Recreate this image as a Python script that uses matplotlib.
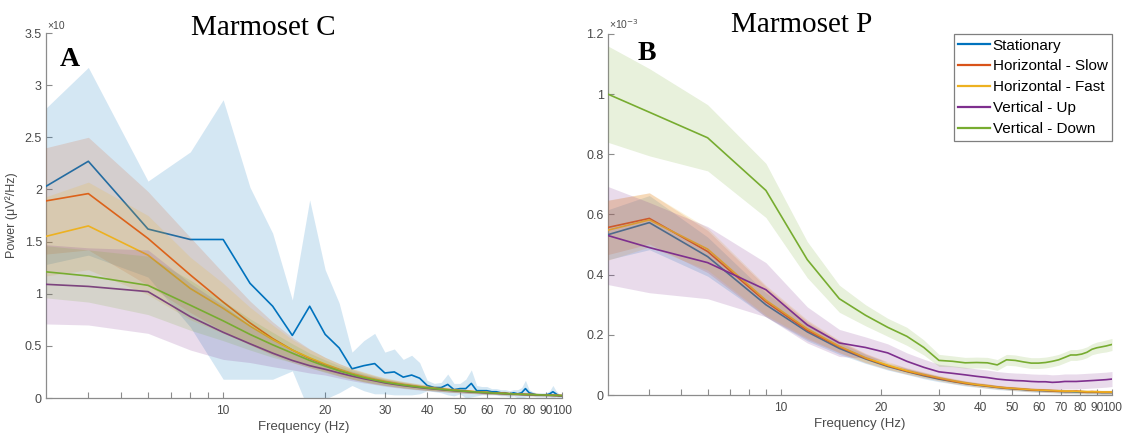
import matplotlib
matplotlib.use('Agg')
import matplotlib.pyplot as plt
import numpy as np
from matplotlib.ticker import FixedLocator, NullFormatter, FuncFormatter

plt.rcParams['font.family'] = ['Liberation Sans', 'DejaVu Sans']

# ---------------- data ----------------
series_names = ['Stationary', 'Horizontal - Slow', 'Horizontal - Fast', 'Vertical - Up', 'Vertical - Down']
series_colors = ['#0072BD', '#D95319', '#EDB120', '#7E2F8E', '#77AC30']

x_major_ticks = [10, 20, 30, 40, 50, 60, 70, 80, 90, 100]
x_minor_ticks = [4, 5, 6, 7, 8, 9]
yticks_a = [0, 0.5, 1, 1.5, 2, 2.5, 3, 3.5]
yticks_b = [0, 0.2, 0.4, 0.6, 0.8, 1, 1.2]

# Panel A (Marmoset C)
freq_a = [3, 4, 6, 8, 10, 12, 14, 16, 18, 20, 22, 24, 26, 28, 30, 32, 34, 36, 38, 40,
          42, 44, 46, 48, 50, 52, 54, 56, 58, 60, 62, 64, 66, 68, 70, 72, 74, 76, 78, 80,
          82, 84, 86, 88, 90, 92, 94, 96, 98, 100]

stat_a_mean = [2.03, 2.27, 1.62, 1.52, 1.52, 1.10, 0.88, 0.60, 0.88, 0.61,
               0.48, 0.28, 0.31, 0.33, 0.24, 0.25, 0.20, 0.22, 0.19, 0.12,
               0.10, 0.10, 0.13, 0.08, 0.09, 0.09, 0.14, 0.07, 0.07, 0.07,
               0.06, 0.06, 0.05, 0.05, 0.04, 0.05, 0.04, 0.05, 0.09, 0.05,
               0.04, 0.03, 0.03, 0.03, 0.03, 0.04, 0.06, 0.04, 0.02, 0.02]
stat_a_err = [0.75, 0.90, 0.46, 0.84, 1.34, 0.92, 0.70, 0.34, 1.02, 0.62,
              0.43, 0.16, 0.24, 0.29, 0.20, 0.22, 0.17, 0.19, 0.15, 0.05,
              0.04, 0.05, 0.10, 0.06, 0.05, 0.09, 0.13, 0.05, 0.04, 0.04,
              0.03, 0.03, 0.03, 0.03, 0.03, 0.03, 0.04, 0.05, 0.08, 0.03,
              0.02, 0.02, 0.02, 0.02, 0.02, 0.03, 0.06, 0.03, 0.02, 0.02]

slow_a_mean = [1.89, 1.96, 1.53, 1.18, 0.92, 0.72, 0.57, 0.46, 0.38, 0.32,
               0.27, 0.23, 0.20, 0.175, 0.155, 0.140, 0.127, 0.116, 0.106, 0.098,
               0.091, 0.085, 0.079, 0.074, 0.069, 0.065, 0.061, 0.058, 0.055, 0.052,
               0.049, 0.047, 0.045, 0.043, 0.041, 0.039, 0.037, 0.036, 0.034, 0.033,
               0.032, 0.031, 0.030, 0.029, 0.028, 0.027, 0.026, 0.025, 0.024, 0.023]
slow_a_err = [0.51, 0.54, 0.45, 0.36, 0.28, 0.21, 0.16, 0.12, 0.09, 0.07,
              0.06, 0.05, 0.045, 0.04, 0.035, 0.032, 0.030, 0.028, 0.026, 0.024,
              0.022, 0.021, 0.020, 0.019, 0.018, 0.017, 0.016, 0.015, 0.015, 0.014,
              0.014, 0.013, 0.013, 0.012, 0.012, 0.011, 0.011, 0.011, 0.010, 0.010,
              0.010, 0.010, 0.009, 0.009, 0.009, 0.009, 0.008, 0.008, 0.008, 0.008]

fast_a_mean = [1.55, 1.65, 1.37, 1.05, 0.86, 0.69, 0.56, 0.46, 0.385, 0.325,
               0.275, 0.235, 0.205, 0.180, 0.160, 0.144, 0.130, 0.119, 0.109, 0.100,
               0.093, 0.087, 0.081, 0.076, 0.071, 0.067, 0.063, 0.059, 0.056, 0.053,
               0.050, 0.048, 0.046, 0.044, 0.042, 0.040, 0.038, 0.037, 0.035, 0.034,
               0.033, 0.032, 0.031, 0.030, 0.029, 0.028, 0.027, 0.026, 0.025, 0.024]
fast_a_err = [0.38, 0.42, 0.38, 0.30, 0.24, 0.18, 0.14, 0.10, 0.08, 0.065,
              0.055, 0.05, 0.045, 0.04, 0.035, 0.032, 0.030, 0.028, 0.026, 0.024,
              0.022, 0.021, 0.020, 0.019, 0.018, 0.017, 0.016, 0.015, 0.015, 0.014,
              0.014, 0.013, 0.013, 0.012, 0.012, 0.011, 0.011, 0.011, 0.010, 0.010,
              0.010, 0.010, 0.009, 0.009, 0.009, 0.009, 0.008, 0.008, 0.008, 0.008]

up_a_mean = [1.09, 1.07, 1.02, 0.78, 0.63, 0.52, 0.43, 0.36, 0.31, 0.275,
             0.24, 0.21, 0.185, 0.165, 0.145, 0.131, 0.119, 0.109, 0.100, 0.092,
             0.086, 0.080, 0.075, 0.070, 0.066, 0.062, 0.058, 0.055, 0.052, 0.049,
             0.047, 0.045, 0.043, 0.041, 0.039, 0.037, 0.036, 0.034, 0.033, 0.032,
             0.031, 0.030, 0.029, 0.028, 0.027, 0.026, 0.025, 0.024, 0.023, 0.022]
up_a_err = [0.38, 0.37, 0.40, 0.32, 0.26, 0.18, 0.13, 0.09, 0.07, 0.055,
            0.05, 0.045, 0.04, 0.036, 0.032, 0.030, 0.028, 0.026, 0.024, 0.022,
            0.021, 0.020, 0.019, 0.018, 0.017, 0.016, 0.015, 0.015, 0.014, 0.014,
            0.013, 0.013, 0.012, 0.012, 0.011, 0.011, 0.011, 0.010, 0.010, 0.010,
            0.010, 0.009, 0.009, 0.009, 0.009, 0.008, 0.008, 0.008, 0.008, 0.008]

down_a_mean = [1.21, 1.17, 1.08, 0.89, 0.74, 0.61, 0.51, 0.43, 0.36, 0.305,
               0.26, 0.225, 0.195, 0.172, 0.152, 0.137, 0.124, 0.113, 0.104, 0.096,
               0.089, 0.083, 0.077, 0.072, 0.068, 0.064, 0.060, 0.057, 0.054, 0.051,
               0.048, 0.046, 0.044, 0.042, 0.040, 0.038, 0.037, 0.035, 0.034, 0.033,
               0.032, 0.031, 0.030, 0.029, 0.028, 0.027, 0.026, 0.025, 0.024, 0.023]
down_a_err = [0.25, 0.25, 0.28, 0.24, 0.19, 0.15, 0.12, 0.09, 0.07, 0.06,
              0.05, 0.045, 0.04, 0.036, 0.032, 0.030, 0.028, 0.026, 0.024, 0.022,
              0.021, 0.020, 0.019, 0.018, 0.017, 0.016, 0.015, 0.015, 0.014, 0.014,
              0.013, 0.013, 0.012, 0.012, 0.011, 0.011, 0.011, 0.010, 0.010, 0.010,
              0.010, 0.009, 0.009, 0.009, 0.009, 0.008, 0.008, 0.008, 0.008, 0.008]

# Panel B (Marmoset P), values in units of 1e-3
freq_b = [3, 4, 6, 9, 12, 15, 18, 21, 24, 27, 30, 33, 36, 39, 42, 45, 48, 51, 54, 57,
          60, 63, 66, 69, 72, 75, 78, 81, 84, 87, 90, 93, 96, 100]

stat_b_mean = [0.533, 0.573, 0.460, 0.300, 0.210, 0.155, 0.120, 0.095, 0.078, 0.064,
               0.053, 0.045, 0.038, 0.033, 0.029, 0.025, 0.022, 0.020, 0.018, 0.016,
               0.015, 0.014, 0.013, 0.012, 0.011, 0.011, 0.010, 0.010, 0.009, 0.009,
               0.009, 0.008, 0.008, 0.008]
stat_b_err = [0.083, 0.090, 0.065, 0.040, 0.030, 0.020, 0.015, 0.012, 0.010, 0.010,
              0.009, 0.008, 0.008, 0.007, 0.007, 0.007, 0.006, 0.006, 0.006, 0.006,
              0.006, 0.006, 0.006, 0.006, 0.006, 0.006, 0.006, 0.006, 0.006, 0.006,
              0.006, 0.006, 0.006, 0.006]

slow_b_mean = [0.557, 0.587, 0.477, 0.310, 0.215, 0.160, 0.122, 0.097, 0.079, 0.066,
               0.055, 0.046, 0.039, 0.034, 0.030, 0.026, 0.023, 0.021, 0.019, 0.017,
               0.016, 0.015, 0.014, 0.013, 0.012, 0.012, 0.013, 0.011, 0.010, 0.011,
               0.010, 0.009, 0.009, 0.009]
slow_b_err = [0.090, 0.085, 0.070, 0.050, 0.030, 0.020, 0.015, 0.012, 0.010, 0.009,
              0.008, 0.008, 0.007, 0.007, 0.007, 0.006, 0.006, 0.006, 0.006, 0.006,
              0.006, 0.006, 0.006, 0.006, 0.006, 0.006, 0.006, 0.006, 0.006, 0.006,
              0.006, 0.006, 0.006, 0.006]

fast_b_mean = [0.548, 0.582, 0.485, 0.315, 0.220, 0.162, 0.124, 0.099, 0.081, 0.068,
               0.057, 0.048, 0.041, 0.035, 0.031, 0.027, 0.024, 0.022, 0.020, 0.018,
               0.017, 0.016, 0.015, 0.014, 0.013, 0.013, 0.012, 0.012, 0.011, 0.011,
               0.011, 0.010, 0.010, 0.010]
fast_b_err = [0.100, 0.090, 0.070, 0.050, 0.030, 0.020, 0.015, 0.012, 0.010, 0.009,
              0.008, 0.008, 0.007, 0.007, 0.007, 0.006, 0.006, 0.006, 0.006, 0.006,
              0.006, 0.006, 0.006, 0.006, 0.006, 0.006, 0.006, 0.006, 0.006, 0.006,
              0.006, 0.006, 0.006, 0.006]

up_b_mean = [0.530, 0.490, 0.440, 0.350, 0.233, 0.173, 0.158, 0.140, 0.112, 0.092,
             0.077, 0.072, 0.067, 0.062, 0.058, 0.053, 0.050, 0.048, 0.047, 0.045,
             0.044, 0.044, 0.042, 0.043, 0.045, 0.045, 0.045, 0.046, 0.047, 0.048,
             0.049, 0.050, 0.051, 0.053]
up_b_err = [0.163, 0.150, 0.120, 0.090, 0.060, 0.045, 0.035, 0.030, 0.028, 0.027,
            0.025, 0.025, 0.025, 0.025, 0.025, 0.025, 0.025, 0.025, 0.025, 0.025,
            0.025, 0.025, 0.025, 0.025, 0.025, 0.025, 0.025, 0.025, 0.025, 0.025,
            0.025, 0.025, 0.025, 0.025]

down_b_mean = [1.000, 0.940, 0.855, 0.680, 0.450, 0.320, 0.265, 0.225, 0.195, 0.158,
               0.115, 0.112, 0.107, 0.108, 0.107, 0.100, 0.117, 0.115, 0.110, 0.106,
               0.106, 0.108, 0.112, 0.117, 0.125, 0.133, 0.133, 0.136, 0.142, 0.152,
               0.157, 0.160, 0.163, 0.168]
down_b_err = [0.160, 0.145, 0.110, 0.090, 0.060, 0.045, 0.035, 0.030, 0.030, 0.025,
              0.020, 0.018, 0.018, 0.018, 0.018, 0.018, 0.018, 0.018, 0.018, 0.018,
              0.018, 0.018, 0.018, 0.018, 0.018, 0.018, 0.018, 0.018, 0.018, 0.018,
              0.019, 0.019, 0.020, 0.020]

means_a = [stat_a_mean, slow_a_mean, fast_a_mean, up_a_mean, down_a_mean]
errs_a = [stat_a_err, slow_a_err, fast_a_err, up_a_err, down_a_err]
means_b = [stat_b_mean, slow_b_mean, fast_b_mean, up_b_mean, down_b_mean]
errs_b = [stat_b_err, slow_b_err, fast_b_err, up_b_err, down_b_err]

# ---------------- figure ----------------
W, H = 1127, 436
fig = plt.figure(figsize=(W / 100, H / 100), dpi=100)
axA = fig.add_axes([46 / W, (H - 398) / H, 516 / W, 365 / H])
axB = fig.add_axes([608 / W, (H - 395) / H, 504 / W, 361 / H])

AX_COL = '#8c8c8c'
TXT_COL = '#4a4a4a'


def draw(ax, freq, means, errs):
    f = np.array(freq, dtype=float)
    for i, (name, col, m, e) in enumerate(zip(series_names, series_colors, means, errs)):
        m = np.array(m)
        e = np.array(e)
        ax.fill_between(f, m - e, m + e, color=col, alpha=0.17, lw=0, zorder=2 + 2 * i)
        ax.plot(f, m, color=col, lw=1.2, label=name, zorder=3 + 2 * i)


def style(ax, ymax, yticks):
    ax.set_xscale('log')
    ax.set_xlim(3, 100)
    ax.set_ylim(0, ymax)
    ax.xaxis.set_major_locator(FixedLocator(x_major_ticks))
    ax.xaxis.set_major_formatter(FuncFormatter(lambda v, p: f'{v:g}'))
    ax.xaxis.set_minor_locator(FixedLocator(x_minor_ticks))
    ax.xaxis.set_minor_formatter(NullFormatter())
    ax.yaxis.set_major_locator(FixedLocator(yticks))
    ax.yaxis.set_major_formatter(FuncFormatter(lambda v, p: f'{v:g}'))
    for s in ['top', 'right']:
        ax.spines[s].set_visible(False)
    for s in ['left', 'bottom']:
        ax.spines[s].set_color(AX_COL)
        ax.spines[s].set_linewidth(0.9)
    ax.tick_params(which='both', direction='in', length=4, width=0.8, color=AX_COL,
                   labelcolor=TXT_COL, labelsize=9)
    ax.tick_params(axis='x', which='both', pad=5, labelsize=8.6)
    ax.tick_params(axis='y', pad=3)
    ax.set_xlabel('Frequency (Hz)', fontsize=9.5, color=TXT_COL, labelpad=3)
    ax.set_facecolor('none')


draw(axA, freq_a, means_a, errs_a)
draw(axB, freq_b, means_b, errs_b)
style(axA, 3.5, yticks_a)
style(axB, 1.2, yticks_b)
axA.set_ylabel('Power (μV²/Hz)', fontsize=9, color=TXT_COL, labelpad=5)

# exponent labels
fig.text(47 / W, 1 - 29 / H, '×10', fontsize=7.5, color=TXT_COL, va='baseline', ha='left')
fig.text(609 / W, 1 - 29 / H, r'×10$^{-3}$', fontsize=7.5, color=TXT_COL, va='baseline', ha='left')

# titles and panel letters
fig.text(263 / W, 1 - 35 / H, 'Marmoset C', family='Liberation Serif', fontsize=21,
         ha='center', va='baseline', color='black')
fig.text(802 / W, 1 - 32 / H, 'Marmoset P', family='Liberation Serif', fontsize=21,
         ha='center', va='baseline', color='black')
fig.text(60 / W, 1 - 66 / H, 'A', family='Liberation Serif', weight='bold', fontsize=20,
         ha='left', va='baseline', color='black')
fig.text(638 / W, 1 - 60 / H, 'B', family='Liberation Serif', weight='bold', fontsize=20,
         ha='left', va='baseline', color='black')

leg = axB.legend(loc='upper right', borderaxespad=0, fontsize=11, frameon=True,
                 fancybox=False, edgecolor='#7f7f7f', framealpha=1, handlelength=2.1,
                 handletextpad=0.15, labelspacing=0.45, borderpad=0.3)
leg.get_frame().set_linewidth(0.9)
leg.set_zorder(20)
for line in leg.get_lines():
    line.set_linewidth(1.6)

fig.savefig('out.png', dpi=100)
